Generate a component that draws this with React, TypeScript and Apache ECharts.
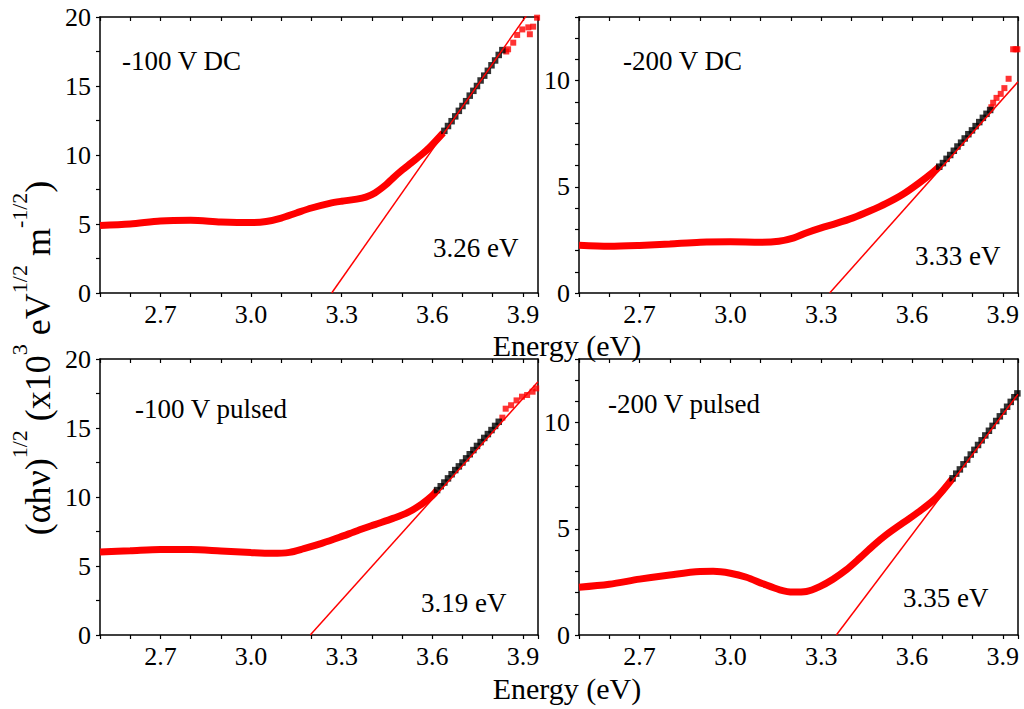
import React, { useEffect, useRef } from 'react';
import * as echarts from 'echarts';

const FONT = 'Liberation Serif, Times New Roman, serif';

const panelLabels = ['-100 V DC', '-200 V DC', '-100 V pulsed', '-200 V pulsed'];
const gapLabels = ['3.26 eV', '3.33 eV', '3.19 eV', '3.35 eV'];
const yMaxes = [20, 13, 20, 13];
const yTickSteps = [2.5, 1, 2.5, 1];
const xMin = 2.5;
const xMax = 3.95;

// Panel 1: -100 V DC
const dc100BandX = [2.5, 2.6, 2.7, 2.8, 2.9, 3.0, 3.05, 3.1, 3.15, 3.2, 3.26, 3.3, 3.35, 3.38, 3.41, 3.447, 3.47, 3.5, 3.53, 3.56, 3.589, 3.636];
const dc100BandY = [4.9, 5.0, 5.22, 5.27, 5.15, 5.1, 5.18, 5.43, 5.8, 6.16, 6.5, 6.65, 6.8, 6.95, 7.25, 7.85, 8.33, 8.9, 9.42, 9.95, 10.5, 11.6];
const dc100FitX = [3.640, 3.652, 3.664, 3.676, 3.688, 3.700, 3.712, 3.724, 3.736, 3.748, 3.760, 3.772, 3.784, 3.796, 3.808, 3.820, 3.832];
const dc100FitY = [11.75, 12.1, 12.45, 12.8, 13.2, 13.55, 13.9, 14.3, 14.65, 15.0, 15.4, 15.75, 16.1, 16.5, 16.85, 17.25, 17.6];
const dc100TailX = [3.845, 3.851, 3.868, 3.881, 3.898, 3.918, 3.923, 3.934, 3.947];
const dc100TailY = [17.5, 17.66, 18.14, 18.7, 19.1, 19.25, 18.75, 19.3, 19.95];
const dc100Line = [[3.267, 0], [3.95, 21.3]];

// Panel 2: -200 V DC
const dc200BandX = [2.5, 2.6, 2.7, 2.8, 2.9, 3.0, 3.1, 3.16, 3.21, 3.25, 3.3, 3.35, 3.405, 3.46, 3.515, 3.57, 3.625, 3.67, 3.69];
const dc200BandY = [2.25, 2.2, 2.24, 2.31, 2.39, 2.41, 2.39, 2.44, 2.6, 2.83, 3.07, 3.28, 3.54, 3.86, 4.22, 4.65, 5.2, 5.7, 5.95];
const dc200FitX = [3.690, 3.702, 3.714, 3.726, 3.738, 3.750, 3.762, 3.774, 3.786, 3.798, 3.810, 3.822, 3.834, 3.846, 3.858];
const dc200FitY = [5.95, 6.12, 6.32, 6.5, 6.7, 6.9, 7.08, 7.28, 7.48, 7.66, 7.86, 8.05, 8.25, 8.44, 8.62];
const dc200TailX = [3.862, 3.868, 3.879, 3.893, 3.905, 3.919, 3.934, 3.942, 3.948];
const dc200TailY = [8.75, 8.96, 9.19, 9.38, 9.65, 10.09, 11.48, 11.48, 11.48];
const dc200Line = [[3.328, 0], [3.95, 9.95]];

// Panel 3: -100 V pulsed
const p100BandX = [2.5, 2.6, 2.7, 2.8, 2.9, 3.0, 3.07, 3.127, 3.175, 3.234, 3.293, 3.352, 3.41, 3.47, 3.518, 3.565, 3.6, 3.616];
const p100BandY = [6.01, 6.1, 6.2, 6.2, 6.09, 5.97, 5.92, 5.99, 6.26, 6.64, 7.08, 7.56, 8.0, 8.45, 8.86, 9.49, 10.1, 10.5];
const p100FitX = [3.616, 3.628, 3.640, 3.652, 3.664, 3.676, 3.688, 3.700, 3.712, 3.724, 3.736, 3.748, 3.760, 3.772, 3.784, 3.796, 3.808, 3.820];
const p100FitY = [10.5, 10.78, 11.05, 11.35, 11.65, 11.95, 12.22, 12.5, 12.8, 13.1, 13.4, 13.7, 13.98, 14.28, 14.56, 14.85, 15.15, 15.45];
const p100TailX = [3.832, 3.843, 3.861, 3.879, 3.897, 3.914, 3.932, 3.944];
const p100TailY = [15.75, 16.4, 16.65, 17.0, 17.27, 17.39, 17.63, 17.87];
const p100Line = [[3.196, 0], [3.95, 18.36]];

// Panel 4: -200 V pulsed
const p200BandX = [2.5, 2.6, 2.7, 2.8, 2.9, 2.943, 3.0, 3.053, 3.108, 3.163, 3.207, 3.251, 3.295, 3.339, 3.383, 3.427, 3.471, 3.515, 3.57, 3.625, 3.68, 3.733];
const p200BandY = [2.25, 2.39, 2.63, 2.83, 2.99, 3.0, 2.91, 2.72, 2.41, 2.13, 2.02, 2.05, 2.28, 2.63, 3.07, 3.62, 4.2, 4.72, 5.28, 5.83, 6.46, 7.35];
const p200FitX = [3.734, 3.746, 3.758, 3.770, 3.782, 3.794, 3.806, 3.818, 3.830, 3.842, 3.854, 3.866, 3.878, 3.890, 3.902, 3.914, 3.926, 3.938, 3.948];
const p200FitY = [7.38, 7.6, 7.8, 8.04, 8.26, 8.5, 8.72, 8.95, 9.17, 9.4, 9.62, 9.85, 10.08, 10.3, 10.52, 10.75, 10.98, 11.2, 11.38];
const p200TailX: number[] = [];
const p200TailY: number[] = [];
const p200Line = [[3.35, 0], [3.95, 11.34]];

const zip = (xs: number[], ys: number[]) => xs.map((x, i) => [x, ys[i]]);

const panels = [
  { band: zip(dc100BandX, dc100BandY), fit: zip(dc100FitX, dc100FitY), tail: zip(dc100TailX, dc100TailY), line: dc100Line },
  { band: zip(dc200BandX, dc200BandY), fit: zip(dc200FitX, dc200FitY), tail: zip(dc200TailX, dc200TailY), line: dc200Line },
  { band: zip(p100BandX, p100BandY), fit: zip(p100FitX, p100FitY), tail: zip(p100TailX, p100TailY), line: p100Line },
  { band: zip(p200BandX, p200BandY), fit: zip(p200FitX, p200FitY), tail: zip(p200TailX, p200TailY), line: p200Line },
];

const grids = [
  { left: 100, top: 17, width: 438, height: 276 },
  { left: 579, top: 17, width: 439, height: 276 },
  { left: 100, top: 359, width: 438, height: 276 },
  { left: 579, top: 359, width: 439, height: 276 },
];

const labelPos = [
  { a: [122, 61], b: [433, 248] },
  { a: [623, 61], b: [915, 256] },
  { a: [135, 409], b: [421, 603] },
  { a: [608, 404], b: [903, 598] },
];

export default function App() {
  const ref = useRef<HTMLDivElement>(null);
  useEffect(() => {
    if (!ref.current) return;
    const chart = echarts.init(ref.current, undefined, { renderer: 'svg' });
    const xAxes: any[] = [];
    const yAxes: any[] = [];
    const series: any[] = [];
    const graphics: any[] = [];
    const lineStyle = { color: '#000', width: 1.5 };
    const xFmt = (v: number) => {
      const k = Math.round(v * 10);
      return Math.abs(v * 10 - k) < 1e-6 && k % 3 === 0 ? (k / 10).toFixed(1) : '';
    };
    const yFmt = (v: number) => (Math.abs(v % 5) < 1e-9 ? String(v) : '');
    grids.forEach((g, i) => {
      xAxes.push({
        gridIndex: i, type: 'value', min: xMin, max: xMax, interval: 0.1,
        axisLine: { show: true, onZero: false, lineStyle },
        axisTick: { show: true, inside: false, length: 4, lineStyle: { color: '#000', width: 1.2 } },
        axisLabel: { formatter: xFmt, fontSize: 26, fontFamily: FONT, color: '#000', margin: 8 },
        splitLine: { show: false },
      });
      xAxes.push({
        gridIndex: i, type: 'value', position: 'top', min: xMin, max: xMax, interval: 0.1,
        axisLine: { show: true, onZero: false, lineStyle },
        axisTick: { show: true, inside: true, length: 4, lineStyle: { color: '#000', width: 1.2 } },
        axisLabel: { show: false },
        splitLine: { show: false },
      });
      yAxes.push({
        gridIndex: i, type: 'value', min: 0, max: yMaxes[i], interval: yTickSteps[i],
        axisLine: { show: true, onZero: false, lineStyle },
        axisTick: { show: true, inside: false, length: 4, lineStyle: { color: '#000', width: 1.2 } },
        axisLabel: { formatter: yFmt, fontSize: 26, fontFamily: FONT, color: '#000', margin: 9 },
        splitLine: { show: false },
      });
      yAxes.push({
        gridIndex: i, type: 'value', position: 'right', min: 0, max: yMaxes[i], interval: yTickSteps[i],
        axisLine: { show: true, onZero: false, lineStyle },
        axisTick: { show: false },
        axisLabel: { show: false },
        splitLine: { show: false },
      });
      const p = panels[i];
      const xi = 2 * i;
      const yi = 2 * i;
      series.push({
        type: 'line', xAxisIndex: xi, yAxisIndex: yi, data: p.band, symbol: 'none', smooth: 0.3,
        lineStyle: { color: '#ff0000', width: 7 }, z: 2, silent: true,
      });
      series.push({
        type: 'scatter', xAxisIndex: xi, yAxisIndex: yi, data: p.tail, symbol: 'rect', symbolSize: 6,
        itemStyle: { color: '#ff0000' }, z: 3, silent: true,
      });
      series.push({
        type: 'scatter', xAxisIndex: xi, yAxisIndex: yi, data: p.fit, symbol: 'rect', symbolSize: 6.5,
        itemStyle: { color: '#000' }, z: 4, silent: true,
      });
      series.push({
        type: 'line', xAxisIndex: xi, yAxisIndex: yi, data: p.line, symbol: 'none', clip: true,
        lineStyle: { color: '#ff0000', width: 1.5 }, z: 5, silent: true,
      });
      const lp = labelPos[i];
      graphics.push({
        type: 'text', x: lp.a[0], y: lp.a[1], z: 10,
        style: { text: panelLabels[i], fontSize: 27, fontFamily: FONT, fill: '#000', align: 'left', verticalAlign: 'middle' },
      });
      graphics.push({
        type: 'text', x: lp.b[0], y: lp.b[1], z: 10,
        style: { text: gapLabels[i], fontSize: 27, fontFamily: FONT, fill: '#000', align: 'left', verticalAlign: 'middle' },
      });
    });
    graphics.push({
      type: 'text', x: 567, y: 345, z: 10,
      style: { text: 'Energy (eV)', fontSize: 30, fontFamily: FONT, fill: '#000', align: 'center', verticalAlign: 'middle' },
    });
    graphics.push({
      type: 'text', x: 567, y: 688, z: 10,
      style: { text: 'Energy (eV)', fontSize: 30, fontFamily: FONT, fill: '#000', align: 'center', verticalAlign: 'middle' },
    });
    graphics.push({
      type: 'text', x: 38, y: 358, rotation: Math.PI / 2, z: 10,
      style: {
        text: '{m|(αhν)}{s|1/2}{m| (x10}{s|3}{m| eV}{s|1/2}{m| m}{s|-1/2}{m|)}',
        align: 'center', verticalAlign: 'middle', fill: '#000',
        fontFamily: FONT, fontSize: 36,
        rich: {
          m: { fontSize: 36, fontFamily: FONT, fill: '#000' },
          s: { fontSize: 22, fontFamily: FONT, fill: '#000', padding: [0, 0, 38, 0] },
        },
      },
    });
    chart.setOption({
      animation: false,
      backgroundColor: '#ffffff',
      grid: grids.map((g) => ({ ...g, containLabel: false, show: false })),
      xAxis: xAxes,
      yAxis: yAxes,
      series,
      graphic: graphics,
    });
    return () => chart.dispose();
  }, []);
  return (
    <div
      ref={ref}
      style={{ position: 'fixed', left: 0, top: 0, width: '1024px', height: '709px', background: '#fff' }}
    />
  );
}
